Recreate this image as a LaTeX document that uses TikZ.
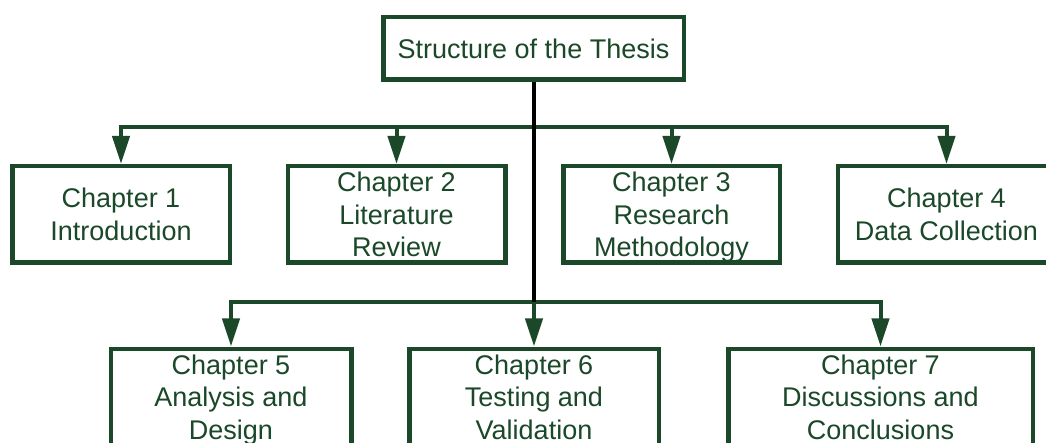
\documentclass[tikz,border=0pt]{standalone}
\usepackage{fontspec}
\setmainfont{Liberation Sans}
\usetikzlibrary{arrows.meta}
\definecolor{dgreen}{RGB}{26,72,40}
\newcommand{\mydepth}{\vphantom{gy}}
\newcommand{\mytop}{\rule{0pt}{25pt}}
\begin{document}
\begin{tikzpicture}[x=1pt,y=-1pt,
  box/.style={draw=dgreen,line width=4.5pt,fill=white,text=dgreen,align=center,
    font=\fontsize{27}{32.5}\selectfont,inner sep=0pt,line join=miter},
  conn/.style={draw=dgreen,line width=4pt,line join=miter},
  tip/.style={-{Triangle[length=28pt,width=17pt]}},
  tips/.style={{Triangle[length=28pt,width=17pt]}-{Triangle[length=28pt,width=17pt]}}]
\useasboundingbox (0,0) rectangle (1046,443);
\node[box,minimum width=300.5pt,minimum height=62.5pt] (top) at (533.5,48.5) {Structure of the Thesis};
\node[box,minimum width=217.5pt,minimum height=96.5pt] (c1) at (121,214.5) {Chapter 1\\Introduction};
\node[box,minimum width=217.5pt,minimum height=96.5pt] (c2) at (396.5,214.5) {\mytop Chapter 2\\Literature\\Review\mydepth};
\node[box,minimum width=216.5pt,minimum height=96.5pt] (c3) at (671.5,214.5) {\mytop Chapter 3\\Research\\Methodology\mydepth};
\node[box,minimum width=217.5pt,minimum height=96.5pt] (c4) at (946.5,214.5) {Chapter 4\\Data Collection};
\node[box,minimum width=240.5pt,minimum height=96.5pt] (c5) at (231,397) {\mytop Chapter 5\\Analysis and\\Design\mydepth};
\node[box,minimum width=249.5pt,minimum height=96.5pt] (c6) at (534,397) {\mytop Chapter 6\\Testing and\\Validation\mydepth};
\node[box,minimum width=304.5pt,minimum height=96.5pt] (c7) at (880.5,397) {\mytop Chapter 7\\Discussions and\\Conclusions\mydepth};
\coordinate (bar1) at (0,127);
\coordinate (bar2) at (0,302);
\draw[conn,tips] (c1.north) -- (c1.north|-bar1) -- (c4.north|-bar1) -- (c4.north);
\draw[conn,tip] (c2.north|-bar1) -- (c2.north);
\draw[conn,tip] (c3.north|-bar1) -- (c3.north);
\draw[conn,tips] (c5.north) -- (c5.north|-bar2) -- (c7.north|-bar2) -- (c7.north);
\draw[conn,tip] (c6.north|-bar2) -- (c6.north);
\draw[black,line width=4pt] (top.south) -- (top.south|-bar2);
\end{tikzpicture}
\end{document}
